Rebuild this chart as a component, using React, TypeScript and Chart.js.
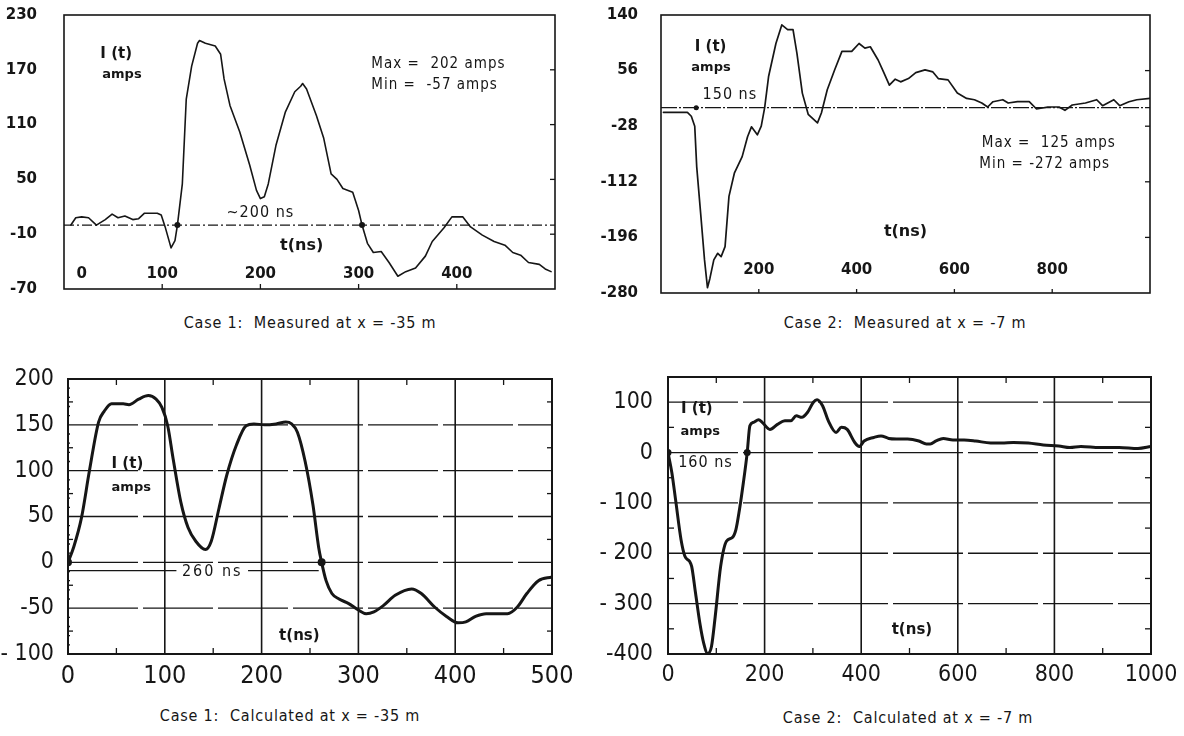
import React, { useEffect, useRef } from 'react';
import { Chart, registerables } from 'chart.js';

Chart.register(...registerables);

// ---------------- data ----------------
const case1MeasuredTime = [7, 12, 18, 25, 33, 42, 49, 55, 62, 70, 76, 82, 95, 99, 103, 109, 113, 115.5, 120.5, 124.5, 130, 136, 138, 144, 154, 159.5, 163, 169, 179, 189, 196, 200, 204, 208, 216, 225.5, 235, 241, 243, 247, 257, 264.5, 272, 278, 284, 294, 300, 303.5, 309, 315, 323, 331, 340, 348, 358, 368, 375, 387, 395, 406, 414, 426, 438, 449, 457, 465, 473, 484, 490, 496];
const case1MeasuredCurrent = [0, 8, 9, 8, 0, 6, 12, 8, 10, 6, 7, 13, 13, 11, -2, -25, -17, 0, 45, 138, 174, 199, 202, 199, 196, 187, 160, 131, 102, 66, 38, 29, 31, 45, 88, 124, 146, 152, 155, 149, 120, 95, 56, 50, 40, 36, 16, 0, -20, -30, -29, -41, -56, -51, -47, -34, -18, -3, 9, 9, -2, -11, -18, -22, -30, -33, -41, -43, -48, -51];
const case1MeasuredMarks = [115.5, 303.5];
const case1MeasuredYTicks = [-70, -10, 50, 110, 170, 230];
const case1MeasuredYLabels = ['-70', '-10', '50', '110', '170', '230'];
const case1MeasuredXTicks = [0, 100, 200, 300, 400];

const case2MeasuredTime = [5, 54, 62, 69, 73, 81, 89, 95, 100, 108, 116, 123, 131, 139, 150, 166, 177, 185, 197, 205, 212, 220, 235, 247, 259, 270, 278, 289, 301, 320, 328, 340, 355, 370, 390, 405, 417, 428, 444, 455, 467, 479, 490, 506, 521, 540, 556, 567, 587, 606, 625, 641, 656, 668, 679, 699, 710, 729, 753, 768, 791, 814, 826, 841, 868, 891, 903, 926, 938, 957, 973, 1000];
const case2MeasuredCurrent = [-7, -7, -13, -28, -89, -159, -230, -272, -258, -230, -220, -225, -210, -134, -99, -74, -44, -29, -41, -28, 0, 47, 97, 125, 118, 118, 82, 22, -10, -23, -8, 27, 57, 85, 85, 97, 90, 92, 72, 54, 34, 43, 39, 44, 53, 57, 54, 44, 42, 22, 14, 12, 7, 1, 9, 12, 7, 9, 9, -2, 1, 1, -4, 4, 7, 12, 3, 12, 3, 9, 12, 14];
const case2MeasuredMarks = [72];
const case2MeasuredYTicks = [-280, -196, -112, -28, 56, 140];
const case2MeasuredYLabels = ['-280', '-196', '-112', '-28', '56', '140'];
const case2MeasuredXTicks = [200, 400, 600, 800];

const case1CalcTime = [0, 6, 14, 22, 31.6, 37.5, 45, 57, 63, 73, 83, 91, 97, 103, 108.6, 116.5, 124, 132, 142, 148, 156, 164, 174, 184, 192, 203, 215, 225, 231, 237, 245, 253, 259, 262, 266.6, 272.6, 280, 290, 300, 308, 316, 326, 338, 355, 365, 379, 391, 403, 411, 421, 432, 444, 454, 464, 474, 486, 500];
const case1CalcCurrent = [0, 17, 49, 99, 153, 165, 173, 173, 172, 178, 182, 178, 169, 149, 113, 66, 38, 23, 14, 23, 59, 95, 128, 149, 151, 150, 151, 153, 151, 142, 110, 63, 16, 0, -20, -34, -40, -45, -52, -56, -54, -47, -36, -29, -34, -49, -59, -66, -65, -59, -56, -56, -56, -49, -34, -20, -16];
const case1CalcMarks = [0, 262];
const case1CalcYTicks = [-100, -50, 0, 50, 100, 150, 200];
const case1CalcYLabels = ['- 100', '-50', '0', '50', '100', '150', '200'];
const case1CalcXTicks = [0, 100, 200, 300, 400, 500];

const case2CalcTime = [0, 8, 15.6, 27, 35, 44.5, 49, 57, 66, 74, 82, 90, 97.7, 109, 121, 133, 140.6, 148, 156, 164, 169.5, 177, 187.5, 195, 211, 226.6, 242, 254, 265.6, 277, 289, 301, 308.6, 320, 332, 348, 359, 371, 386.7, 396, 406, 426, 441, 457, 473, 496, 519.5, 535, 543, 555, 570, 590, 613, 637, 668, 691, 715, 746, 777, 809, 832, 855, 894, 934, 973, 1000];
const case2CalcCurrent = [0, -40, -93, -173, -206, -216, -226, -279, -339, -379, -399, -385, -326, -226, -176, -169, -153, -113, -60, 0, 53, 60, 65, 60, 46, 56, 63, 63, 73, 70, 80, 100, 105, 93, 63, 40, 50, 46, 20, 12, 23, 30, 33, 28, 27, 27, 23, 17, 17, 23, 28, 25, 25, 23, 19, 19, 20, 19, 15, 13, 10, 12, 10, 10, 8, 12];
const case2CalcMarks = [0, 164];
const case2CalcYTicks = [-400, -300, -200, -100, 0, 100];
const case2CalcYLabels = ['-400', '- 300', '- 200', '- 100', '0', '100'];
const case2CalcXTicks = [0, 200, 400, 600, 800, 1000];

// ---------------- styling ----------------
const INK = '#161616';
const NARROW = "'Liberation Sans Narrow', 'DejaVu Sans Condensed', 'Liberation Sans', sans-serif";
const BOLDF = "'DejaVu Sans', 'Liberation Sans', sans-serif";

type Txt = { text: string; x: number; y: number; font: string; align?: CanvasTextAlign; spacing?: number };
type TickSet = { side: 'top' | 'bottom' | 'left' | 'right'; values: number[]; len: number };
type Overlay = {
  boxWidth: number;
  zeroDash?: number[];
  gridX?: number[];
  gridY?: number[];
  gridDash?: number[];
  ticks?: TickSet[];
  segments?: number[][];
  texts: Txt[];
};

type PanelSpec = {
  left: number; top: number; w: number; h: number;
  time: number[]; current: number[]; marks: number[]; markRadius: number;
  lineWidth: number; smooth: boolean;
  xMin: number; xMax: number; yMin: number; yMax: number;
  yTicks: number[]; yLabels: string[]; yFont: any; yPad: number; yAxisWidth: number;
  showX: boolean; xTicks: number[]; xFont: any; xPad: number; xAxisHeight: number;
  padding: { top: number; right: number; bottom: number; left: number };
  overlay: Overlay;
};

function makeOverlay(o: Overlay) {
  return {
    id: 'overlay',
    beforeDatasetsDraw(chart: any) {
      const { ctx, chartArea: a } = chart;
      const xs = chart.scales.x;
      const ys = chart.scales.y;
      ctx.save();
      ctx.strokeStyle = INK;
      if (o.gridX) {
        ctx.lineWidth = 1.6;
        ctx.setLineDash([]);
        for (const v of o.gridX) {
          const px = xs.getPixelForValue(v);
          ctx.beginPath(); ctx.moveTo(px, a.top); ctx.lineTo(px, a.bottom); ctx.stroke();
        }
      }
      if (o.gridY) {
        ctx.lineWidth = 1.3;
        ctx.setLineDash(o.gridDash || []);
        for (const v of o.gridY) {
          const py = ys.getPixelForValue(v);
          ctx.beginPath(); ctx.moveTo(a.left, py); ctx.lineTo(a.right, py); ctx.stroke();
        }
      }
      if (o.zeroDash) {
        ctx.lineWidth = 1.2;
        ctx.setLineDash(o.zeroDash);
        const py = ys.getPixelForValue(0);
        ctx.beginPath(); ctx.moveTo(a.left, py); ctx.lineTo(a.right, py); ctx.stroke();
      }
      ctx.setLineDash([]);
      ctx.lineWidth = 1.3;
      for (const t of o.ticks || []) {
        for (const v of t.values) {
          ctx.beginPath();
          if (t.side === 'top' || t.side === 'bottom') {
            const px = xs.getPixelForValue(v);
            const y0 = t.side === 'top' ? a.top : a.bottom;
            const dir = t.side === 'top' ? 1 : -1;
            ctx.moveTo(px, y0); ctx.lineTo(px, y0 + dir * t.len);
          } else {
            const py = ys.getPixelForValue(v);
            const x0 = t.side === 'left' ? a.left : a.right;
            const dir = t.side === 'left' ? 1 : -1;
            ctx.moveTo(x0, py); ctx.lineTo(x0 + dir * t.len, py);
          }
          ctx.stroke();
        }
      }
      ctx.restore();
    },
    afterDatasetsDraw(chart: any) {
      const { ctx, chartArea: a } = chart;
      const xs = chart.scales.x;
      const ys = chart.scales.y;
      ctx.save();
      ctx.strokeStyle = INK;
      ctx.fillStyle = INK;
      ctx.lineWidth = o.boxWidth;
      ctx.strokeRect(a.left, a.top, a.right - a.left, a.bottom - a.top);
      ctx.lineWidth = 1.4;
      for (const s of o.segments || []) {
        ctx.beginPath();
        ctx.moveTo(xs.getPixelForValue(s[0]), ys.getPixelForValue(s[1]));
        ctx.lineTo(xs.getPixelForValue(s[2]), ys.getPixelForValue(s[3]));
        ctx.stroke();
      }
      ctx.textBaseline = 'middle';
      for (const t of o.texts) {
        ctx.font = t.font;
        ctx.textAlign = t.align || 'left';
        (ctx as any).letterSpacing = (t.spacing || 0) + 'px';
        ctx.fillText(t.text, xs.getPixelForValue(t.x), ys.getPixelForValue(t.y));
      }
      ctx.restore();
    },
  };
}

function buildConfig(p: PanelSpec): any {
  return {
    type: 'line',
    data: {
      datasets: [
        {
          data: p.time.map((t, i) => ({ x: t, y: p.current[i] })),
          borderColor: INK,
          borderWidth: p.lineWidth,
          pointRadius: 0,
          fill: false,
          tension: p.smooth ? 0.4 : 0,
          cubicInterpolationMode: p.smooth ? 'monotone' : 'default',
          borderJoinStyle: 'round',
          borderCapStyle: 'round',
        },
        {
          data: p.marks.map((t) => ({ x: t, y: 0 })),
          showLine: false,
          pointRadius: p.markRadius,
          pointBackgroundColor: INK,
          pointBorderColor: INK,
          pointBorderWidth: 0,
        },
      ],
    },
    options: {
      responsive: false,
      animation: false,
      devicePixelRatio: 1,
      events: [],
      layout: { padding: p.padding },
      plugins: { legend: { display: false }, tooltip: { enabled: false } },
      scales: {
        x: {
          type: 'linear',
          min: p.xMin,
          max: p.xMax,
          display: p.showX,
          grid: { display: false, drawTicks: false },
          border: { display: false },
          afterBuildTicks: (s: any) => { s.ticks = p.xTicks.map((v) => ({ value: v })); },
          afterFit: (s: any) => { s.height = p.xAxisHeight; s.paddingLeft = 0; s.paddingRight = 0; },
          ticks: { font: p.xFont, color: INK, padding: p.xPad, maxRotation: 0, autoSkip: false, callback: (v: any) => String(v) },
        },
        y: {
          type: 'linear',
          min: p.yMin,
          max: p.yMax,
          grid: { display: false, drawTicks: false },
          border: { display: false },
          afterBuildTicks: (s: any) => { s.ticks = p.yTicks.map((v) => ({ value: v })); },
          afterFit: (s: any) => { s.width = p.yAxisWidth; s.paddingTop = 0; s.paddingBottom = 0; },
          ticks: { font: p.yFont, color: INK, padding: p.yPad, autoSkip: false, callback: (_v: any, i: number) => p.yLabels[i] },
        },
      },
    },
    plugins: [makeOverlay(p.overlay)],
  };
}

const topTickFont = { family: BOLDF, size: 15, weight: 'bold' };
const bottomYFont = { family: NARROW, size: 23, weight: 'normal' };

const minor10: number[] = [];
for (let v = -90; v < 200; v += 10) if (v % 50 !== 0) minor10.push(v);

const panels: PanelSpec[] = [
  {
    left: 0, top: 0, w: 580, h: 305,
    time: case1MeasuredTime, current: case1MeasuredCurrent, marks: case1MeasuredMarks, markRadius: 3,
    lineWidth: 1.6, smooth: false,
    xMin: 0, xMax: 500, yMin: -70, yMax: 230,
    yTicks: case1MeasuredYTicks, yLabels: case1MeasuredYLabels, yFont: topTickFont, yPad: 27, yAxisWidth: 64,
    showX: false, xTicks: case1MeasuredXTicks, xFont: topTickFont, xPad: 0, xAxisHeight: 0,
    padding: { top: 15, right: 25, bottom: 16, left: 0 },
    overlay: {
      boxWidth: 1.6,
      zeroDash: [10, 3, 2, 3],
      ticks: [
        { side: 'right', values: [170, 110, 50, -10], len: 5 },
        { side: 'bottom', values: [100, 200, 300, 400], len: 5 },
      ],
      texts: [
        { text: 'I (t)', x: 37, y: 187, font: `bold 15px ${BOLDF}` },
        { text: 'amps', x: 39, y: 165, font: `bold 13px ${BOLDF}` },
        { text: 'Max =  202 amps', x: 313, y: 176, font: `15px ${NARROW}`, spacing: 1 },
        { text: 'Min =  -57 amps', x: 313, y: 153, font: `15px ${NARROW}`, spacing: 1 },
        { text: '~200 ns', x: 200, y: 13, align: 'center', font: `16px ${NARROW}`, spacing: 1 },
        { text: 't(ns)', x: 242, y: -23, align: 'center', font: `bold 16px ${BOLDF}` },
        ...case1MeasuredXTicks.map((v) => ({ text: String(v), x: Math.max(v, 18), y: -54, align: 'center' as CanvasTextAlign, font: `bold 15px ${BOLDF}` })),
      ],
    },
  },
  {
    left: 590, top: 0, w: 594, h: 305,
    time: case2MeasuredTime, current: case2MeasuredCurrent, marks: case2MeasuredMarks, markRadius: 2.5,
    lineWidth: 1.7, smooth: false,
    xMin: 0, xMax: 1000, yMin: -280, yMax: 140,
    yTicks: case2MeasuredYTicks, yLabels: case2MeasuredYLabels, yFont: topTickFont, yPad: 23, yAxisWidth: 71,
    showX: false, xTicks: case2MeasuredXTicks, xFont: topTickFont, xPad: 0, xAxisHeight: 0,
    padding: { top: 15, right: 34, bottom: 12, left: 0 },
    overlay: {
      boxWidth: 1.6,
      zeroDash: [16, 2, 2, 2],
      ticks: [
        { side: 'right', values: [56, -28, -112, -196], len: 5 },
        { side: 'bottom', values: [200, 400, 600, 800], len: 4 },
      ],
      texts: [
        { text: 'I (t)', x: 69, y: 92, font: `bold 15px ${BOLDF}` },
        { text: 'amps', x: 62, y: 60, font: `bold 13px ${BOLDF}` },
        { text: '150 ns', x: 85, y: 19, font: `16px ${NARROW}`, spacing: 1 },
        { text: 'Max =  125 amps', x: 656, y: -54, font: `15px ${NARROW}`, spacing: 1 },
        { text: 'Min = -272 amps', x: 651, y: -86, font: `15px ${NARROW}`, spacing: 1 },
        { text: 't(ns)', x: 500, y: -187, align: 'center', font: `bold 16px ${BOLDF}` },
        ...case2MeasuredXTicks.map((v) => ({ text: String(v), x: v, y: -245, align: 'center' as CanvasTextAlign, font: `bold 15px ${BOLDF}` })),
      ],
    },
  },
  {
    left: 0, top: 360, w: 580, h: 330,
    time: case1CalcTime, current: case1CalcCurrent, marks: case1CalcMarks, markRadius: 4,
    lineWidth: 3, smooth: true,
    xMin: 0, xMax: 500, yMin: -100, yMax: 200,
    yTicks: case1CalcYTicks, yLabels: case1CalcYLabels, yFont: bottomYFont, yPad: 14, yAxisWidth: 68,
    showX: true, xTicks: case1CalcXTicks, xFont: { family: NARROW, size: 25, weight: 'normal' }, xPad: 7, xAxisHeight: 36,
    padding: { top: 19, right: 28, bottom: 0, left: 0 },
    overlay: {
      boxWidth: 2,
      gridX: [100, 200, 300, 400],
      gridY: [150, 100, 50, 0, -50],
      gridDash: [70, 5],
      ticks: [
        { side: 'top', values: [50, 150, 250, 350, 450], len: 6 },
        { side: 'bottom', values: [50, 150, 250, 350, 450], len: 6 },
        { side: 'left', values: [175, 125, 75, 25, -25, -75], len: 5 },
        { side: 'right', values: [175, 125, 75, 25, -25, -75], len: 5 },
        { side: 'left', values: minor10, len: 2 },
      ],
      segments: [[0, -9, 112, -9], [186, -9, 259, -9]],
      texts: [
        { text: 'I (t)', x: 45, y: 107, font: `bold 15px ${BOLDF}` },
        { text: 'amps', x: 45, y: 81, font: `bold 13px ${BOLDF}` },
        { text: '260 ns', x: 149, y: -10, align: 'center', font: `16px ${NARROW}`, spacing: 2 },
        { text: 't(ns)', x: 239, y: -81, align: 'center', font: `bold 15px ${BOLDF}` },
      ],
    },
  },
  {
    left: 590, top: 360, w: 594, h: 330,
    time: case2CalcTime, current: case2CalcCurrent, marks: case2CalcMarks, markRadius: 3.5,
    lineWidth: 3, smooth: true,
    xMin: 0, xMax: 1000, yMin: -400, yMax: 150,
    yTicks: case2CalcYTicks, yLabels: case2CalcYLabels, yFont: bottomYFont, yPad: 15, yAxisWidth: 78,
    showX: true, xTicks: case2CalcXTicks, xFont: { family: NARROW, size: 23, weight: 'normal' }, xPad: 7, xAxisHeight: 36,
    padding: { top: 17, right: 33, bottom: 0, left: 0 },
    overlay: {
      boxWidth: 2,
      gridX: [200, 400, 600, 800],
      gridY: [100, 0, -100, -200, -300],
      gridDash: [70, 5],
      ticks: [
        { side: 'top', values: [100, 300, 500, 700, 900], len: 6 },
        { side: 'bottom', values: [100, 300, 500, 700, 900], len: 6 },
        { side: 'left', values: [50, -50, -150, -250, -350], len: 6 },
        { side: 'right', values: [50, -50, -150, -250, -350], len: 6 },
      ],
      texts: [
        { text: 'I (t)', x: 27, y: 86, font: `bold 15px ${BOLDF}` },
        { text: 'amps', x: 26, y: 41, font: `bold 13px ${BOLDF}` },
        { text: '160 ns', x: 21, y: -20, font: `16px ${NARROW}`, spacing: 1 },
        { text: 't(ns)', x: 505, y: -352, align: 'center', font: `bold 15px ${BOLDF}` },
      ],
    },
  },
];

const captions = [
  { text: 'Case 1:  Measured at x = -35 m', cx: 310, cy: 323 },
  { text: 'Case 2:  Measured at x = -7 m', cx: 905, cy: 323 },
  { text: 'Case 1:  Calculated at x = -35 m', cx: 290, cy: 716 },
  { text: 'Case 2:  Calculated at x = -7 m', cx: 908, cy: 718 },
];

function Panel({ spec }: { spec: PanelSpec }) {
  const ref = useRef<HTMLCanvasElement>(null);
  useEffect(() => {
    if (!ref.current) return;
    const chart = new Chart(ref.current, buildConfig(spec));
    return () => chart.destroy();
  }, [spec]);
  return (
    <canvas
      ref={ref}
      width={spec.w}
      height={spec.h}
      style={{ position: 'absolute', left: spec.left, top: spec.top, width: spec.w, height: spec.h }}
    />
  );
}

export default function App() {
  return (
    <div style={{ position: 'absolute', left: 0, top: 0, width: 1184, height: 736, background: '#fff', overflow: 'hidden' }}>
      {panels.map((p, i) => (
        <Panel key={i} spec={p} />
      ))}
      {captions.map((c, i) => (
        <div
          key={'c' + i}
          style={{
            position: 'absolute',
            left: c.cx - 250,
            width: 500,
            top: c.cy - 11,
            height: 22,
            lineHeight: '22px',
            textAlign: 'center',
            fontFamily: NARROW,
            fontSize: 16,
            letterSpacing: '0.8px',
            whiteSpace: 'pre',
            color: INK,
          }}
        >
          {c.text}
        </div>
      ))}
    </div>
  );
}
